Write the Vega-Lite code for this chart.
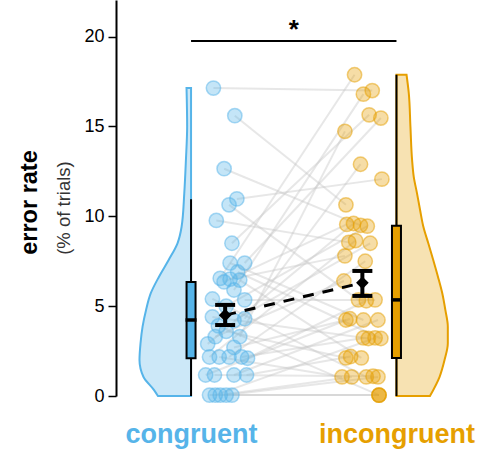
{
  "$schema": "https://vega.github.io/schema/vega-lite/v6.json",
  "width": 374,
  "height": 396,
  "autosize": {"type": "none"},
  "padding": {"left": 116, "top": 0, "right": 8, "bottom": 58},
  "config": {"font": "Liberation Sans", "view": {"stroke": null}},
  "datasets": {
    "violin": [
      {"cond": "congruent", "pos": 1, "y": 0, "edge": 0.839},
      {"cond": "congruent", "pos": 1, "y": 0.33, "edge": 0.82},
      {"cond": "congruent", "pos": 1, "y": 1.07, "edge": 0.768},
      {"cond": "congruent", "pos": 1, "y": 2.0, "edge": 0.749},
      {"cond": "congruent", "pos": 1, "y": 2.93, "edge": 0.754},
      {"cond": "congruent", "pos": 1, "y": 3.86, "edge": 0.764},
      {"cond": "congruent", "pos": 1, "y": 4.79, "edge": 0.781},
      {"cond": "congruent", "pos": 1, "y": 5.72, "edge": 0.804},
      {"cond": "congruent", "pos": 1, "y": 6.64, "edge": 0.844},
      {"cond": "congruent", "pos": 1, "y": 7.57, "edge": 0.891},
      {"cond": "congruent", "pos": 1, "y": 8.5, "edge": 0.934},
      {"cond": "congruent", "pos": 1, "y": 9.42, "edge": 0.954},
      {"cond": "congruent", "pos": 1, "y": 11.28, "edge": 0.967},
      {"cond": "congruent", "pos": 1, "y": 13.13, "edge": 0.975},
      {"cond": "congruent", "pos": 1, "y": 15.0, "edge": 0.981},
      {"cond": "congruent", "pos": 1, "y": 17.14, "edge": 0.978},
      {"cond": "incongruent", "pos": 2, "y": 0, "edge": 2.163},
      {"cond": "incongruent", "pos": 2, "y": 1.07, "edge": 2.21},
      {"cond": "incongruent", "pos": 2, "y": 2.0, "edge": 2.234},
      {"cond": "incongruent", "pos": 2, "y": 2.93, "edge": 2.25},
      {"cond": "incongruent", "pos": 2, "y": 3.86, "edge": 2.25},
      {"cond": "incongruent", "pos": 2, "y": 4.79, "edge": 2.238},
      {"cond": "incongruent", "pos": 2, "y": 5.72, "edge": 2.223},
      {"cond": "incongruent", "pos": 2, "y": 6.64, "edge": 2.202},
      {"cond": "incongruent", "pos": 2, "y": 7.57, "edge": 2.179},
      {"cond": "incongruent", "pos": 2, "y": 8.5, "edge": 2.155},
      {"cond": "incongruent", "pos": 2, "y": 9.42, "edge": 2.131},
      {"cond": "incongruent", "pos": 2, "y": 10.35, "edge": 2.115},
      {"cond": "incongruent", "pos": 2, "y": 11.28, "edge": 2.1},
      {"cond": "incongruent", "pos": 2, "y": 12.21, "edge": 2.084},
      {"cond": "incongruent", "pos": 2, "y": 13.14, "edge": 2.076},
      {"cond": "incongruent", "pos": 2, "y": 14.99, "edge": 2.068},
      {"cond": "incongruent", "pos": 2, "y": 16.85, "edge": 2.06},
      {"cond": "incongruent", "pos": 2, "y": 17.88, "edge": 2.049}
    ],
    "pts": [
      {"id": 1, "cond": "congruent", "x": 1.109, "y": 17.14},
      {"id": 2, "cond": "congruent", "x": 1.213, "y": 15.6},
      {"id": 3, "cond": "congruent", "x": 1.161, "y": 12.65},
      {"id": 4, "cond": "congruent", "x": 1.223, "y": 10.97},
      {"id": 5, "cond": "congruent", "x": 1.185, "y": 10.64},
      {"id": 6, "cond": "congruent", "x": 1.123, "y": 9.77},
      {"id": 7, "cond": "congruent", "x": 1.199, "y": 8.5},
      {"id": 8, "cond": "congruent", "x": 1.19, "y": 7.4},
      {"id": 9, "cond": "congruent", "x": 1.261, "y": 7.4},
      {"id": 10, "cond": "congruent", "x": 1.227, "y": 6.9},
      {"id": 11, "cond": "congruent", "x": 1.142, "y": 6.55},
      {"id": 12, "cond": "congruent", "x": 1.19, "y": 6.5},
      {"id": 13, "cond": "congruent", "x": 1.237, "y": 6.45},
      {"id": 14, "cond": "congruent", "x": 1.161, "y": 6.35},
      {"id": 15, "cond": "congruent", "x": 1.209, "y": 5.9},
      {"id": 16, "cond": "congruent", "x": 1.104, "y": 5.4},
      {"id": 17, "cond": "congruent", "x": 1.261, "y": 5.35},
      {"id": 18, "cond": "congruent", "x": 1.171, "y": 5.0},
      {"id": 19, "cond": "congruent", "x": 1.104, "y": 4.4},
      {"id": 20, "cond": "congruent", "x": 1.261, "y": 4.3},
      {"id": 21, "cond": "congruent", "x": 1.209, "y": 4.2},
      {"id": 22, "cond": "congruent", "x": 1.133, "y": 3.9},
      {"id": 23, "cond": "congruent", "x": 1.118, "y": 3.3},
      {"id": 24, "cond": "congruent", "x": 1.237, "y": 3.3},
      {"id": 25, "cond": "congruent", "x": 1.171, "y": 3.6},
      {"id": 26, "cond": "congruent", "x": 1.081, "y": 2.9},
      {"id": 27, "cond": "congruent", "x": 1.209, "y": 2.7},
      {"id": 28, "cond": "congruent", "x": 1.09, "y": 2.17},
      {"id": 29, "cond": "congruent", "x": 1.137, "y": 2.17},
      {"id": 30, "cond": "congruent", "x": 1.185, "y": 2.17},
      {"id": 31, "cond": "congruent", "x": 1.246, "y": 2.17},
      {"id": 32, "cond": "congruent", "x": 1.275, "y": 2.1},
      {"id": 33, "cond": "congruent", "x": 1.071, "y": 1.17},
      {"id": 34, "cond": "congruent", "x": 1.114, "y": 1.17},
      {"id": 35, "cond": "congruent", "x": 1.209, "y": 1.17},
      {"id": 36, "cond": "congruent", "x": 1.27, "y": 1.17},
      {"id": 37, "cond": "congruent", "x": 1.09, "y": 0.05},
      {"id": 38, "cond": "congruent", "x": 1.118, "y": 0.05},
      {"id": 39, "cond": "congruent", "x": 1.142, "y": 0.05},
      {"id": 40, "cond": "congruent", "x": 1.171, "y": 0.05},
      {"id": 41, "cond": "congruent", "x": 1.199, "y": 0.05},
      {"id": 11, "cond": "incongruent", "x": 1.796, "y": 17.88},
      {"id": 1, "cond": "incongruent", "x": 1.882, "y": 17.0},
      {"id": 15, "cond": "incongruent", "x": 1.839, "y": 16.8},
      {"id": 7, "cond": "incongruent", "x": 1.867, "y": 15.65},
      {"id": 9, "cond": "incongruent", "x": 1.924, "y": 15.47},
      {"id": 24, "cond": "incongruent", "x": 1.749, "y": 14.73},
      {"id": 20, "cond": "incongruent", "x": 1.825, "y": 12.9},
      {"id": 4, "cond": "incongruent", "x": 1.929, "y": 12.07},
      {"id": 2, "cond": "incongruent", "x": 1.754, "y": 10.64},
      {"id": 14, "cond": "incongruent", "x": 1.758, "y": 9.55},
      {"id": 26, "cond": "incongruent", "x": 1.791, "y": 9.6},
      {"id": 3, "cond": "incongruent", "x": 1.825, "y": 9.5},
      {"id": 18, "cond": "incongruent", "x": 1.858, "y": 9.45},
      {"id": 6, "cond": "incongruent", "x": 1.768, "y": 8.55},
      {"id": 28, "cond": "incongruent", "x": 1.801, "y": 8.65},
      {"id": 21, "cond": "incongruent", "x": 1.872, "y": 8.5},
      {"id": 12, "cond": "incongruent", "x": 1.749, "y": 7.8},
      {"id": 30, "cond": "incongruent", "x": 1.848, "y": 7.5},
      {"id": 23, "cond": "incongruent", "x": 1.744, "y": 6.4},
      {"id": 5, "cond": "incongruent", "x": 1.815, "y": 5.35},
      {"id": 32, "cond": "incongruent", "x": 1.853, "y": 5.3},
      {"id": 17, "cond": "incongruent", "x": 1.896, "y": 5.35},
      {"id": 27, "cond": "incongruent", "x": 1.754, "y": 4.23},
      {"id": 33, "cond": "incongruent", "x": 1.773, "y": 4.3},
      {"id": 8, "cond": "incongruent", "x": 1.839, "y": 4.23},
      {"id": 35, "cond": "incongruent", "x": 1.91, "y": 4.23},
      {"id": 31, "cond": "incongruent", "x": 1.839, "y": 3.23},
      {"id": 19, "cond": "incongruent", "x": 1.863, "y": 3.2},
      {"id": 38, "cond": "incongruent", "x": 1.896, "y": 3.23},
      {"id": 10, "cond": "incongruent", "x": 1.924, "y": 3.2},
      {"id": 25, "cond": "incongruent", "x": 1.754, "y": 2.12},
      {"id": 36, "cond": "incongruent", "x": 1.777, "y": 2.2},
      {"id": 13, "cond": "incongruent", "x": 1.829, "y": 2.12},
      {"id": 29, "cond": "incongruent", "x": 1.735, "y": 1.06},
      {"id": 39, "cond": "incongruent", "x": 1.782, "y": 1.06},
      {"id": 16, "cond": "incongruent", "x": 1.853, "y": 1.06},
      {"id": 34, "cond": "incongruent", "x": 1.886, "y": 1.1},
      {"id": 40, "cond": "incongruent", "x": 1.91, "y": 1.06},
      {"id": 22, "cond": "incongruent", "x": 1.915, "y": 0.05},
      {"id": 37, "cond": "incongruent", "x": 1.915, "y": 0.05},
      {"id": 41, "cond": "incongruent", "x": 1.915, "y": 0.05}
    ],
    "box": [
      {"cond": "congruent", "pos": 1, "lo": 0, "q1": 2.1, "med": 4.23, "q3": 6.35, "hi": 10.95},
      {"cond": "incongruent", "pos": 2, "lo": 0, "q1": 2.12, "med": 5.35, "q3": 9.47, "hi": 17.88}
    ],
    "mean": [
      {"cond": "congruent", "x": 1.166, "m": 4.5, "lo": 3.95, "hi": 5.07},
      {"cond": "incongruent", "x": 1.834, "m": 6.3, "lo": 5.57, "hi": 6.96}
    ],
    "sig": [
      {"x1": 1, "x2": 2, "y": 19.76, "xm": 1.5, "ys": 19.95, "label": "*"}
    ],
    "sub": [
      {"label": "(% of trials)", "x": 0.4126, "y": 10.46}
    ]
  },
  "encoding": {
    "x": {"type": "quantitative", "scale": {"domain": [0.659, 2.431], "nice": false, "zero": false},
      "axis": {"values": [1, 2], "labelExpr": "datum.value == 1 ? 'congruent' : 'incongruent'", "title": null, "domain": false, "ticks": false, "tickSize": 0, "grid": false, "labelFontSize": 27, "labelFontWeight": "bold", "labelBaseline": "alphabetic", "labelPadding": 46, "labelFlush": false, "labelOverlap": false, "labelColor": {"condition": {"test": "datum.value == 1", "value": "#56B4E9"}, "value": "#E69F00"}}},
    "y": {"type": "quantitative", "scale": {"domain": [0, 22.04], "nice": false, "zero": false},
      "axis": {"title": "error rate", "titleFontSize": 23.5, "titleFontWeight": "bold", "titleColor": "black", "titleAngle": 270, "titleX": -80, "titleY": 202, "titleBaseline": "alphabetic", "titleAlign": "center", "values": [0, 5, 10, 15, 20], "labelFontSize": 18, "labelColor": "black", "labelPadding": 4, "tickSize": 8, "tickWidth": 1.5, "tickColor": "black", "domainColor": "black", "domainWidth": 2, "grid": false}}
  },
  "layer": [
    {
      "data": {"name": "violin"},
      "mark": {"type": "area", "orient": "horizontal", "interpolate": "monotone", "fillOpacity": 0.3, "strokeWidth": 2},
      "encoding": {
        "y": {"field": "y"},
        "x": {"field": "edge"},
        "x2": {"field": "pos"},
        "fill": {"field": "cond", "type": "nominal", "scale": {"domain": ["congruent", "incongruent"], "range": ["#56B4E9", "#E69F00"]}, "legend": null},
        "stroke": {"field": "cond", "type": "nominal", "scale": {"domain": ["congruent", "incongruent"], "range": ["#56B4E9", "#E69F00"]}, "legend": null}
      }
    },
    {
      "data": {"name": "pts"},
      "mark": {"type": "line", "color": "#c4c4c4", "opacity": 0.4, "strokeWidth": 2},
      "encoding": {
        "x": {"field": "x"},
        "y": {"field": "y"},
        "detail": {"field": "id", "type": "nominal"}
      }
    },
    {
      "data": {"name": "pts"},
      "mark": {"type": "point", "filled": true, "size": 205, "fillOpacity": 0.35, "strokeOpacity": 0.5, "strokeWidth": 1.5},
      "encoding": {
        "x": {"field": "x"},
        "y": {"field": "y"},
        "fill": {"field": "cond", "type": "nominal", "scale": {"domain": ["congruent", "incongruent"], "range": ["#56B4E9", "#E69F00"]}, "legend": null},
        "stroke": {"field": "cond", "type": "nominal", "scale": {"domain": ["congruent", "incongruent"], "range": ["#56B4E9", "#E69F00"]}, "legend": null}
      }
    },
    {
      "data": {"name": "box"},
      "mark": {"type": "rule", "color": "black", "strokeWidth": 2},
      "encoding": {
        "x": {"field": "pos"},
        "y": {"field": "lo"},
        "y2": {"field": "hi"}
      }
    },
    {
      "data": {"name": "box"},
      "mark": {"type": "bar", "size": 9, "stroke": "black", "strokeWidth": 2},
      "encoding": {
        "x": {"field": "pos"},
        "y": {"field": "q1"},
        "y2": {"field": "q3"},
        "fill": {"field": "cond", "type": "nominal", "scale": {"domain": ["congruent", "incongruent"], "range": ["#56B4E9", "#E69F00"]}, "legend": null}
      }
    },
    {
      "data": {"name": "box"},
      "mark": {"type": "tick", "orient": "horizontal", "size": 11, "thickness": 3.5, "color": "black", "opacity": 1},
      "encoding": {
        "x": {"field": "pos"},
        "y": {"field": "med"}
      }
    },
    {
      "data": {"name": "mean"},
      "mark": {"type": "line", "color": "black", "strokeWidth": 3, "strokeDash": [11, 9]},
      "encoding": {
        "x": {"field": "x"},
        "y": {"field": "m"}
      }
    },
    {
      "data": {"name": "mean"},
      "mark": {"type": "rule", "color": "black", "strokeWidth": 4},
      "encoding": {
        "x": {"field": "x"},
        "y": {"field": "lo"},
        "y2": {"field": "hi"}
      }
    },
    {
      "data": {"name": "mean"},
      "mark": {"type": "tick", "orient": "horizontal", "size": 20, "thickness": 4, "color": "black", "opacity": 1},
      "encoding": {
        "x": {"field": "x"},
        "y": {"field": "lo"}
      }
    },
    {
      "data": {"name": "mean"},
      "mark": {"type": "tick", "orient": "horizontal", "size": 20, "thickness": 4, "color": "black", "opacity": 1},
      "encoding": {
        "x": {"field": "x"},
        "y": {"field": "hi"}
      }
    },
    {
      "data": {"name": "mean"},
      "mark": {"type": "point", "shape": "diamond", "filled": true, "size": 160, "color": "black", "opacity": 1},
      "encoding": {
        "x": {"field": "x"},
        "y": {"field": "m"}
      }
    },
    {
      "data": {"name": "sig"},
      "mark": {"type": "rule", "color": "black", "strokeWidth": 2},
      "encoding": {
        "x": {"field": "x1"},
        "x2": {"field": "x2"},
        "y": {"field": "y"}
      }
    },
    {
      "data": {"name": "sig"},
      "mark": {"type": "text", "fontSize": 26, "fontWeight": "bold", "color": "black", "align": "center", "baseline": "alphabetic"},
      "encoding": {
        "x": {"field": "xm"},
        "y": {"field": "ys"},
        "text": {"field": "label"}
      }
    },
    {
      "data": {"name": "sub"},
      "mark": {"type": "text", "fontSize": 18.5, "color": "#333333", "align": "center", "baseline": "alphabetic", "angle": 270},
      "encoding": {
        "x": {"field": "x"},
        "y": {"field": "y"},
        "text": {"field": "label"}
      }
    }
  ]
}
